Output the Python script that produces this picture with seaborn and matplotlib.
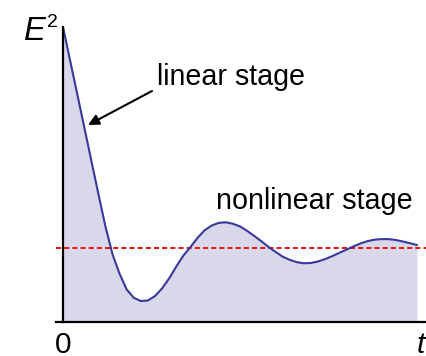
import numpy as np
import pandas as pd
import seaborn as sns
import matplotlib
matplotlib.use("Agg")
import matplotlib.pyplot as plt

# Time samples and the corresponding field energy E^2 (normalised to its initial value)
t_values = [0.0, 0.2, 0.4, 0.6, 0.8, 1.0, 1.2, 1.4, 1.6, 1.8,
            2.0, 2.2, 2.4, 2.6, 2.8, 3.0, 3.2, 3.4, 3.6, 3.8,
            4.0, 4.2, 4.4, 4.6, 4.8, 5.0, 5.2, 5.4, 5.6, 5.8,
            6.0, 6.2, 6.4, 6.6, 6.8, 7.0, 7.2, 7.4, 7.6, 7.8,
            8.0, 8.2, 8.4, 8.6, 8.8, 9.0, 9.2, 9.4, 9.6, 9.8, 10.0]
e2_values = [1.000, 0.887, 0.774, 0.661, 0.547, 0.434, 0.323, 0.229, 0.163, 0.110,
             0.082, 0.071, 0.073, 0.088, 0.114, 0.148, 0.188, 0.225, 0.254, 0.285,
             0.311, 0.327, 0.336, 0.338, 0.333, 0.324, 0.309, 0.292, 0.274, 0.255,
             0.238, 0.222, 0.211, 0.203, 0.199, 0.200, 0.205, 0.213, 0.223, 0.234,
             0.245, 0.256, 0.266, 0.274, 0.279, 0.281, 0.281, 0.278, 0.273, 0.267, 0.261]
saturation_level = 0.251

axis_labels = {"x": "t", "y": "E", "y_sup": "2", "origin": "0"}
stage_labels = ["linear stage", "nonlinear stage"]

df = pd.DataFrame({"t": t_values, "E2": e2_values})

sns.set_style("white")
plt.rcParams["font.family"] = ["Liberation Sans", "DejaVu Sans"]
plt.rcParams["text.color"] = "black"

W, H = 426, 356
fig = plt.figure(figsize=(W / 100, H / 100), dpi=100)
ax = fig.add_axes([0, 0, 1, 1])

# axis scale: 35.4 px per time unit, 295 px per unit of E^2, origin at (63, 322) px
px_t, px_e = 35.4, 295.0
x0, y0 = 63.0, 322.0
ax.set_xlim(-x0 / px_t, (W - x0) / px_t)
ax.set_ylim(-(H - y0) / px_e, y0 / px_e)

fill_color = "#d8d8ea"
line_color = "#38389a"

ax.fill_between(df["t"], 0, df["E2"], color=fill_color, lw=0, zorder=1)
sns.lineplot(data=df, x="t", y="E2", ax=ax, color=line_color, lw=1.5, zorder=3,
             estimator=None, sort=False)

# saturation level
x_left = (56 - x0) / px_t
x_right = (W - x0) / px_t
ax.plot([x_left, x_right], [saturation_level, saturation_level], color="#ee1111",
        lw=1.4, dashes=(2.6, 1.6), zorder=2)

# axes as plain lines from the origin
for side in ["top", "right"]:
    ax.spines[side].set_visible(False)
ax.spines["left"].set_position(("data", 0))
ax.spines["bottom"].set_position(("data", 0))
ax.spines["left"].set_bounds(0, max(e2_values))
ax.spines["bottom"].set_bounds(x_left, x_right)
for side in ["left", "bottom"]:
    ax.spines[side].set_linewidth(1.6)
    ax.spines[side].set_color("black")
    ax.spines[side].set_zorder(4)
ax.set_xticks([])
ax.set_yticks([])
ax.set_xlabel("")
ax.set_ylabel("")
ax.patch.set_alpha(0)


def ftext(x, y, s, **kw):
    fig.text(x / W, 1 - y / H, s, va="baseline", color="black", **kw)


ftext(24, 40, axis_labels["y"], fontsize=23.5, style="italic")
ftext(47, 27, axis_labels["y_sup"], fontsize=14)
ftext(63.5, 353, axis_labels["origin"], fontsize=21.5, ha="center")
ftext(421, 353, axis_labels["x"], fontsize=21.5, style="italic", ha="center")

ftext(157, 85, stage_labels[0], fontsize=20.6)
ftext(216, 209, stage_labels[1], fontsize=20.7)

ax.annotate("", xy=(88, H - 125), xycoords="figure pixels",
            xytext=(152, H - 91), textcoords="figure pixels",
            arrowprops=dict(arrowstyle="-|>", color="black", lw=1.5,
                            mutation_scale=16, shrinkA=0, shrinkB=0))

fig.savefig("out.png", dpi=100)
